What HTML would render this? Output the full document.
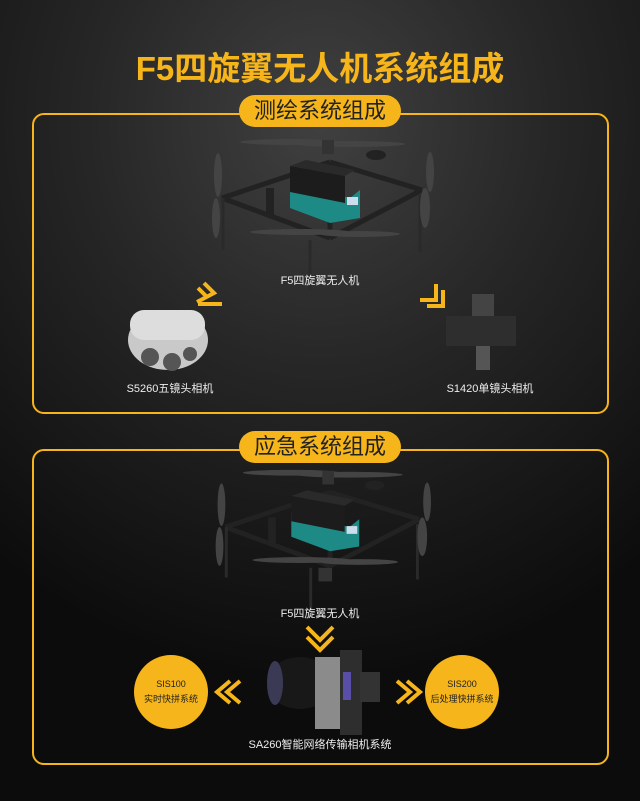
<!DOCTYPE html>
<html><head><meta charset="utf-8"><style>
html,body{margin:0;padding:0}
body{width:640px;height:801px;position:relative;overflow:hidden;background:radial-gradient(ellipse 520px 560px at 320px 120px,#404040 0%,#262626 45%,#0c0c0c 100%);font-family:"Liberation Sans","Noto Sans CJK SC",sans-serif;color:#fff}
.t{position:absolute;left:0;width:640px;text-align:center;top:42px;font-size:33px;font-weight:bold;color:#f6b51a}
.box{position:absolute;left:32px;width:573px;border:2px solid #f6b51a;border-radius:12px}
.pill{position:absolute;left:239px;width:162px;height:32px;background:#f6b51a;border-radius:16px;color:#222;font-size:22px;text-align:center;line-height:32px}
.lb{position:absolute;font-size:11px;color:#eee;white-space:nowrap;text-align:center}
.circ{position:absolute;width:74px;height:74px;border-radius:50%;background:#f6b51a;color:#222;font-size:9px;text-align:center;line-height:15px;display:flex;flex-direction:column;justify-content:center}
svg{position:absolute;left:0;top:0}
</style></head><body>
<div class="t">F5四旋翼无人机系统组成</div>
<div class="box" style="top:113px;height:297px"></div>
<div class="pill" style="top:95px">测绘系统组成</div>
<div class="box" style="top:449px;height:312px"></div>
<div class="pill" style="top:431px">应急系统组成</div>
<svg width="640" height="801">
<defs>
<g id="dr">
<g stroke="#222" stroke-width="5" fill="none">
<line x1="222" y1="198" x2="330" y2="238"/><line x1="330" y1="238" x2="422" y2="190"/>
<line x1="330" y1="238" x2="330" y2="162"/><line x1="222" y1="198" x2="330" y2="162"/>
<line x1="330" y1="162" x2="422" y2="190"/>
</g>
<g stroke="#2a2a2a" stroke-width="3"><line x1="223" y1="198" x2="223" y2="250"/><line x1="420" y1="195" x2="420" y2="252"/><line x1="310" y1="240" x2="310" y2="290"/></g>
<ellipse cx="290" cy="142" rx="50" ry="3" fill="#444"/><ellipse cx="350" cy="144" rx="55" ry="3" fill="#444"/>
<ellipse cx="300" cy="232" rx="50" ry="3" fill="#444"/><ellipse cx="360" cy="234" rx="40" ry="3" fill="#444"/>
<ellipse cx="218" cy="175" rx="4" ry="22" fill="#444"/><ellipse cx="216" cy="218" rx="4" ry="20" fill="#444"/>
<ellipse cx="430" cy="172" rx="4" ry="20" fill="#444"/><ellipse cx="425" cy="208" rx="5" ry="20" fill="#444"/>
<rect x="318" y="240" width="14" height="14" fill="#333"/><rect x="322" y="140" width="12" height="14" fill="#333"/>
<rect x="266" y="188" width="8" height="28" fill="#222"/><ellipse cx="376" cy="155" rx="10" ry="5" fill="#222"/>
<polygon points="290,183 350,198 360,190 360,218 330,223 290,208" fill="#1e8a86"/>
<polygon points="290,166 345,176 345,203 290,192" fill="#1c1c1c"/>
<polygon points="290,166 306,160 355,170 345,176" fill="#2a2a2a"/>
<rect x="347" y="197" width="11" height="8" fill="#cde"/>
</g>
</defs>
<use href="#dr"/>
<use href="#dr" transform="translate(10,335) scale(0.97)"/>
<g fill="none" stroke="#f6b51a" stroke-width="4">
<polyline points="204,283 214,293 197,302"/><polyline points="212,300 220,300 214,293" stroke-width="0"/>
<polyline points="198,288 206,296"/><polyline points="222,304 198,304"/>
<polyline points="436,284 436,300 420,300"/><polyline points="443,290 443,306 427,306" />
<polyline points="307,627 320,640 333,627"/><polyline points="307,637 320,650 333,637"/>
<polyline points="240,681 227,692 240,703"/><polyline points="230,681 217,692 230,703"/>
<polyline points="397,681 410,692 397,703"/><polyline points="407,681 420,692 407,703"/>
</g>
<ellipse cx="168" cy="340" rx="40" ry="30" fill="#c9c9c9"/><rect x="130" y="310" width="75" height="30" rx="14" fill="#ddd"/>
<circle cx="150" cy="357" r="9" fill="#555"/><circle cx="172" cy="362" r="9" fill="#555"/><circle cx="190" cy="354" r="7" fill="#555"/>
<rect x="446" y="316" width="70" height="30" fill="#2e2e2e"/><rect x="472" y="294" width="22" height="22" fill="#444"/>
<rect x="476" y="346" width="14" height="24" fill="#555"/>
<ellipse cx="300" cy="683" rx="33" ry="26" fill="#181818"/><ellipse cx="275" cy="683" rx="8" ry="22" fill="#3a3a55"/>
<rect x="315" y="657" width="45" height="72" fill="#8b8b8b"/><rect x="340" y="650" width="22" height="85" fill="#2e2e2e"/>
<rect x="343" y="672" width="8" height="28" fill="#5a4fa8"/><rect x="360" y="672" width="20" height="30" fill="#333"/>
</svg>
<div class="lb" style="left:260px;width:120px;top:272px">F5四旋翼无人机</div>
<div class="lb" style="left:100px;width:140px;top:380px">S5260五镜头相机</div>
<div class="lb" style="left:420px;width:140px;top:380px">S1420单镜头相机</div>
<div class="lb" style="left:260px;width:120px;top:605px">F5四旋翼无人机</div>
<div class="lb" style="left:200px;width:240px;top:736px">SA260智能网络传输相机系统</div>
<div class="circ" style="left:134px;top:655px"><div>SIS100</div><div>实时快拼系统</div></div>
<div class="circ" style="left:425px;top:655px"><div>SIS200</div><div>后处理快拼系统</div></div>
</body></html>
